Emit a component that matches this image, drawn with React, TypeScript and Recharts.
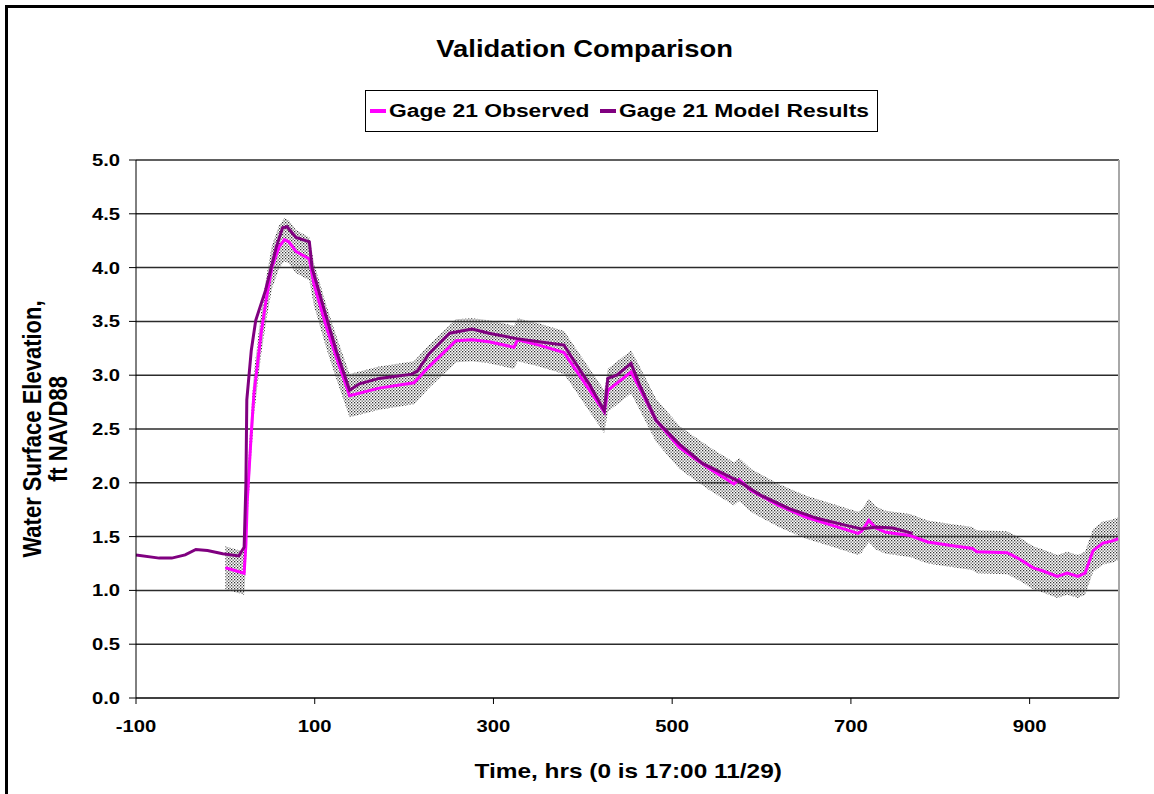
import React from "react";
import { ComposedChart, Line, Area, XAxis, YAxis, CartesianGrid, ReferenceLine } from "recharts";

const xTicks = [-100, 100, 300, 500, 700, 900];
const yTicks = [0, 0.5, 1, 1.5, 2, 2.5, 3, 3.5, 4, 4.5, 5];

// hours after 17:00 11/29, water level ft NAVD88
const modelHours = [
  -100, -74, -60, -45, -33, -20, -3, 15, 21, 23, 24, 29, 34, 45, 57, 64, 69, 79, 94, 97, 113, 124,
  139, 150, 172, 209, 215, 228, 251, 276, 295, 326, 351, 379, 385, 407, 424, 428, 438, 454, 463,
  482, 508, 534, 573, 600, 631, 662, 697, 712, 728, 747, 769,
];
const modelLevels = [
  1.33, 1.3, 1.3, 1.33, 1.38, 1.37, 1.34, 1.32, 1.4, 1.99, 2.77, 3.23, 3.51, 3.79, 4.19, 4.37, 4.38,
  4.28, 4.24, 4.0, 3.54, 3.23, 2.86, 2.92, 2.97, 3.01, 3.04, 3.2, 3.39, 3.43, 3.39, 3.34, 3.31, 3.28,
  3.2, 2.92, 2.67, 2.97, 3.0, 3.11, 2.92, 2.58, 2.36, 2.18, 2.02, 1.88, 1.76, 1.67, 1.6, 1.57, 1.59,
  1.58, 1.53,
];

const observedHours = [
  0, 21, 23, 24.5, 29, 32, 35.5, 40, 45.6, 52, 60, 66, 71, 79, 94, 99, 113, 124, 139, 172, 211, 228,
  258, 276, 295, 323, 327, 351, 379, 424, 428, 454, 463, 482, 508, 523, 542, 569, 575, 588, 619, 650,
  681, 708, 712, 720, 728, 739, 766, 786, 810, 836, 841, 875, 889, 904, 915, 931, 942, 954, 962, 971,
  982, 993, 999,
];
const observedLevels = [
  1.21, 1.16, 1.43, 1.83, 2.46, 2.83, 3.07, 3.39, 3.7, 4.0, 4.19, 4.26, 4.24, 4.15, 4.08, 3.85, 3.45,
  3.17, 2.81, 2.88, 2.93, 3.08, 3.32, 3.33, 3.31, 3.26, 3.33, 3.28, 3.21, 2.66, 2.86, 3.03, 2.89,
  2.58, 2.33, 2.24, 2.13, 1.99, 2.03, 1.93, 1.79, 1.68, 1.6, 1.53, 1.55, 1.65, 1.58, 1.54, 1.51,
  1.45, 1.42, 1.39, 1.36, 1.35, 1.29, 1.21, 1.18, 1.13, 1.16, 1.13, 1.16, 1.37, 1.44, 1.46, 1.48,
];

const TOLERANCE = 0.2;

const modelData = modelHours.map((t, i) => ({ t, v: modelLevels[i] }));
const observedData = observedHours.map((t, i) => ({ t, v: observedLevels[i] }));
const bandData = observedHours.map((t, i) => ({
  t,
  band: [observedLevels[i] - TOLERANCE, observedLevels[i] + TOLERANCE],
}));

const FONT = "'Liberation Sans', Arial, sans-serif";
const STRETCH = 1.19;

function XTick({ x, y, payload }: any) {
  return (
    <g transform={`translate(${x},${y}) scale(${STRETCH},1)`}>
      <text x={0} y={26} textAnchor="middle" fontFamily={FONT} fontWeight="bold" fontSize={17} fill="#000">
        {payload.value}
      </text>
    </g>
  );
}

function YTick({ x, y, payload }: any) {
  return (
    <g transform={`translate(${x - 7},${y}) scale(${STRETCH},1)`}>
      <text x={0} y={6} textAnchor="end" fontFamily={FONT} fontWeight="bold" fontSize={17} fill="#000">
        {Number(payload.value).toFixed(1)}
      </text>
    </g>
  );
}

function LegendItem({ color, label }: { color: string; label: string }) {
  return (
    <div style={{ display: "flex", alignItems: "center", marginRight: 12 }}>
      <div style={{ width: 16, height: 4, background: color, marginRight: 3 }} />
      <span style={{ display: "inline-block", transform: `scaleX(${STRETCH})`, transformOrigin: "left center" }}>
        {label}
      </span>
    </div>
  );
}

export default function App() {
  return (
    <div
      style={{
        position: "absolute",
        left: 0,
        top: 0,
        width: 1154,
        height: 794,
        overflow: "hidden",
        background: "#fff",
        fontFamily: FONT,
      }}
    >
      <div
        style={{
          position: "absolute",
          left: 5,
          top: 5,
          width: 1200,
          height: 900,
          border: "3px solid #000",
        }}
      />
      <ComposedChart
        width={1154}
        height={794}
        margin={{ top: 160, right: 35, bottom: 0, left: 0 }}
        style={{ position: "absolute", left: 0, top: 0 }}
      >
        <defs>
          <pattern id="stipple" width="3" height="3" patternUnits="userSpaceOnUse">
            <rect x="0" y="0" width="1.3" height="1.3" fill="#333" />
            <rect x="1.5" y="1.5" width="1.3" height="1.3" fill="#555" />
          </pattern>
        </defs>
        <CartesianGrid horizontal vertical={false} stroke="#2b2b2b" strokeWidth={1.5} />
        <XAxis
          dataKey="t"
          type="number"
          domain={[-100, 1000]}
          ticks={xTicks}
          height={96}
          tickSize={6}
          tick={<XTick />}
          axisLine={{ stroke: "#404040", strokeWidth: 2 }}
          tickLine={{ stroke: "#000" }}
          allowDataOverflow
        />
        <YAxis
          type="number"
          domain={[0, 5]}
          ticks={yTicks}
          width={136}
          tickSize={7}
          tick={<YTick />}
          axisLine={{ stroke: "#000", strokeWidth: 1 }}
          tickLine={{ stroke: "#000" }}
        />
        <ReferenceLine x={1000} stroke="#a8a8a8" strokeWidth={2} />
        <Area
          data={bandData}
          dataKey="band"
          type="linear"
          stroke="none"
          fill="url(#stipple)"
          fillOpacity={1}
          isAnimationActive={false}
          activeDot={false}
        />
        <Line
          data={observedData}
          dataKey="v"
          type="linear"
          stroke="#ff00ff"
          strokeWidth={3}
          dot={false}
          activeDot={false}
          isAnimationActive={false}
        />
        <Line
          data={modelData}
          dataKey="v"
          type="linear"
          stroke="#800080"
          strokeWidth={3}
          dot={false}
          activeDot={false}
          isAnimationActive={false}
        />
      </ComposedChart>

      <div
        style={{
          position: "absolute",
          left: 0,
          width: 1170,
          top: 36,
          textAlign: "center",
          fontWeight: "bold",
          fontSize: 23,
        }}
      >
        <span style={{ display: "inline-block", transform: `scaleX(${STRETCH})` }}>Validation Comparison</span>
      </div>

      <div
        style={{
          position: "absolute",
          left: 365,
          top: 90,
          width: 513,
          height: 42,
          border: "1px solid #000",
          boxSizing: "border-box",
          display: "flex",
          alignItems: "center",
          paddingLeft: 4,
          fontWeight: "bold",
          fontSize: 19.2,
          whiteSpace: "nowrap",
        }}
      >
        <LegendItem color="#ff00ff" label="Gage 21 Observed" />
        <div style={{ width: 30 }} />
        <LegendItem color="#800080" label="Gage 21 Model Results" />
      </div>

      <div
        style={{
          position: "absolute",
          left: 0,
          width: 1256,
          top: 759,
          textAlign: "center",
          fontWeight: "bold",
          fontSize: 20.5,
        }}
      >
        <span style={{ display: "inline-block", transform: `scaleX(${STRETCH})` }}>Time, hrs (0 is 17:00 11/29)</span>
      </div>

      <div
        style={{
          position: "absolute",
          left: 48,
          top: 429,
          width: 0,
          height: 0,
        }}
      >
        <div
          style={{
            position: "absolute",
            left: -200,
            top: -24,
            width: 400,
            textAlign: "center",
            fontWeight: "bold",
            fontSize: 22,
            lineHeight: "22px",
            transform: `rotate(-90deg) scaleY(${STRETCH})`,
            transformOrigin: "200px 24px",
          }}
        >
          Water Surface Elevation,
          <br />
          ft NAVD88
        </div>
      </div>
    </div>
  );
}
